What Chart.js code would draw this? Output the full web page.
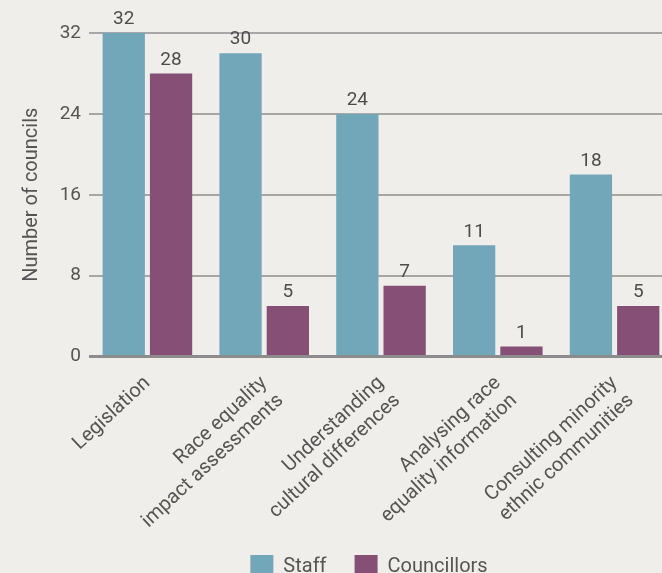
<!DOCTYPE html>
<html>
<head>
<meta charset="utf-8">
<script src="https://cdn.jsdelivr.net/npm/chart.js@4"></script>
<style>
  html, body { margin: 0; padding: 0; background: #efeeea; overflow: hidden; }
  #wrap { width: 673px; height: 588px; }
</style>
</head>
<body>
<div id="wrap"><canvas id="trainingChart"></canvas></div>
<script>
// Councils offering race equality training, by topic
const topics = [
    ['Legislation'],
    ['Race equality', 'impact assessments'],
    ['Understanding', 'cultural differences'],
    ['Analysing race', 'equality information'],
    ['Consulting minority', 'ethnic communities']
];
const staffCounts = [32, 30, 24, 11, 18];
const councillorCounts = [28, 5, 7, 1, 5];
const yTicks = [0, 8, 16, 24, 32];

const FONT = "Roboto, 'Liberation Sans', Arial, sans-serif";
const TEXT = '#555555';

// value printed over each bar
const barValues = {
    id: 'barValues',
    afterDatasetsDraw(chart) {
        const ctx = chart.ctx;
        ctx.save();
        ctx.font = `19px ${FONT}`;
        ctx.fillStyle = '#4d4d4d';
        ctx.textAlign = 'center';
        ctx.textBaseline = 'bottom';
        chart.data.datasets.forEach((ds, i) => {
            chart.getDatasetMeta(i).data.forEach((bar, j) => {
                ctx.fillText(ds.data[j], bar.x, bar.y - 4);
            });
        });
        ctx.restore();
    }
};

// keep the legend centred under the plot rather than the whole canvas
const centreLegend = {
    id: 'centreLegend',
    afterLayout(chart) {
        const lg = chart.legend;
        if (!lg) return;
        const shift = (chart.chartArea.left + chart.chartArea.right) / 2 - (lg.left + lg.right) / 2 - 12;
        lg.left += shift;
        lg.right += shift;
    }
};

new Chart(document.getElementById('trainingChart'), {
    type: 'bar',
    data: {
        labels: topics,
        datasets: [
            { label: 'Staff', data: staffCounts, backgroundColor: '#72a7ba' },
            { label: 'Councillors', data: councillorCounts, backgroundColor: '#864f76' }
        ]
    },
    options: {
        responsive: true,
        maintainAspectRatio: false,
        animation: false,
        categoryPercentage: 0.81,
        barPercentage: 0.894,
        layout: { padding: { top: 33, left: 2, right: 0, bottom: 0 } },
        plugins: {
            legend: {
                position: 'bottom',
                labels: {
                    color: TEXT,
                    font: { family: FONT, size: 20 },
                    boxWidth: 23,
                    boxHeight: 23,
                    padding: 28
                }
            },
            tooltip: { enabled: false }
        },
        scales: {
            x: {
                grid: { display: false },
                border: { display: false },
                // the rotated-label estimate leaves spare room underneath
                afterFit(scale) { scale.height -= 13; },
                ticks: {
                    color: TEXT,
                    font: { family: FONT, size: 20 },
                    minRotation: 43,
                    maxRotation: 43,
                    padding: 7
                }
            },
            y: {
                min: 0,
                max: 32,
                border: { display: false },
                afterFit(scale) { scale.width = 87; },
                afterBuildTicks(scale) { scale.ticks = yTicks.map(v => ({ value: v })); },
                grid: {
                    drawTicks: false,
                    color: c => c.tick && c.tick.value === 0 ? '#8c8c8c' : '#a6a6a6',
                    lineWidth: c => c.tick && c.tick.value === 0 ? 3 : 2
                },
                ticks: {
                    color: TEXT,
                    font: { family: FONT, size: 19 },
                    padding: 8
                },
                title: {
                    display: true,
                    text: 'Number of councils',
                    color: TEXT,
                    font: { family: FONT, size: 20 },
                    padding: { top: 18, bottom: 0 }
                }
            }
        }
    },
    plugins: [barValues, centreLegend]
});
</script>
</body>
</html>
